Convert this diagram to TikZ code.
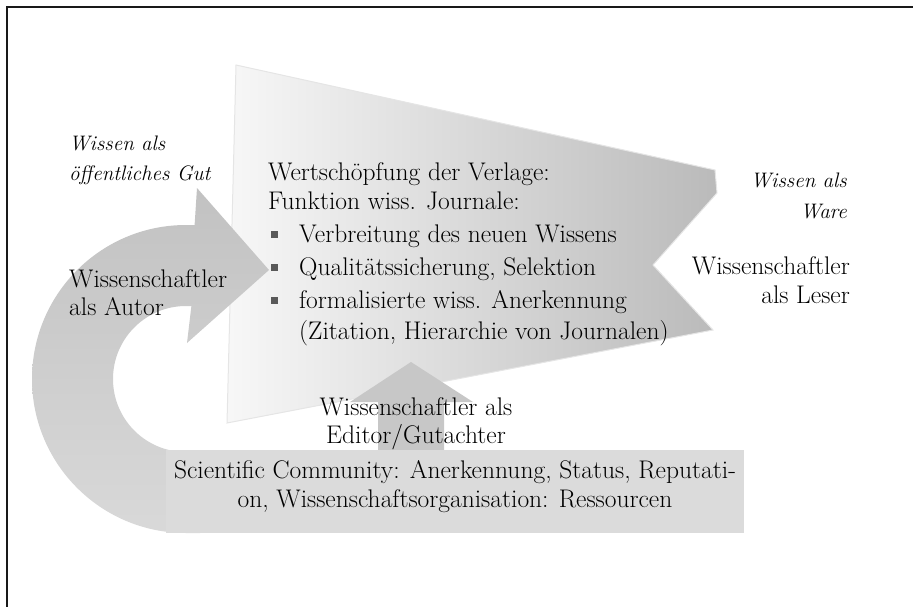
\documentclass[tikz,border=0pt]{standalone}
\usepackage{fontspec}
\begin{document}
\begin{tikzpicture}[x=1pt,y=-1pt,
  txt/.style={inner sep=0pt, font=\fontsize{25.5}{30}\selectfont},
  itx/.style={inner sep=0pt, font=\fontsize{21}{28}\selectfont\itshape},
  bul/.style={fill=black!65, inner sep=0pt, minimum size=7pt, shape=rectangle},
  shaft/.style={fill=black!22},
  frameline/.style={line width=2.2pt, black!90}
]
\useasboundingbox (0,0) rectangle (913,607);
% frame
\draw[frameline] (7,607) -- (7,7) -- (913,7);
% funnel
\path[draw=black!10, line width=1pt, left color=black!3, right color=black!27]
  (236,65) -- (715,170) -- (717,193) -- (653,265) -- (713,330) -- (227,423) -- cycle;
% curved arrow
\path[top color=black!24, bottom color=black!15]
  (186,306) -- (191.4,306) -- (187,343) -- (269,270) -- (197,188) -- (194.6,225) -- (186,225)
  arc[start angle=270, end angle=90, radius=154] -- (200,533) -- (200,452) -- (186,452)
  arc[start angle=90, end angle=270, radius=73] -- cycle;
% up arrow
\path[shaft] (411,362) -- (473,402) -- (444,402) -- (444,455) -- (378,455) -- (378,402) -- (350,402) -- cycle;
% bottom box
\node[fill=black!14, inner sep=0pt, minimum width=578pt, minimum height=83pt, anchor=north west] (box) at (166,450) {};
% texts
\node[itx, anchor=base west] (g1) at (69,151) {Wissen als};
\node[itx, anchor=base west] (g2) at (69,180) {öffentliches Gut};
\node[txt, anchor=base west] (a1) at (69,287) {Wissenschaftler};
\node[txt, anchor=base west] (a2) at (69,315) {als Autor};
\node[txt, anchor=base west] (v1) at (268,180) {Wertschöpfung der Verlage:};
\node[txt, anchor=base west] (v2) at (268,209) {Funktion wiss. Journale:};
\node[bul] (q1) at (274.5,234) {};
\node[bul] (q2) at (274.5,267) {};
\node[bul] (q3) at (274.5,300) {};
\node[txt, anchor=base west] (b1) at (299,242) {Verbreitung des neuen Wissens};
\node[txt, anchor=base west] (b2) at (299,275) {Qualitätssicherung, Selektion};
\node[txt, anchor=base west] (b3) at (299,308) {formalisierte wiss. Anerkennung};
\node[txt, anchor=base west] (b4) at (299,339) {(Zitation, Hierarchie von Journalen)};
\node[itx, anchor=base east] (w1) at (847,187) {Wissen als};
\node[itx, anchor=base east] (w2) at (847,218) {Ware};
\node[txt, anchor=base east] (l1) at (850,274) {Wissenschaftler};
\node[txt, anchor=base east] (l2) at (850,303) {als Leser};
\node[txt, anchor=base] (e1) at (416,415) {Wissenschaftler als};
\node[txt, anchor=base] (e2) at (416,443) {Editor/Gutachter};
\node[txt, anchor=base] (s1) at (455,478) {Scientific Community: Anerkennung, Status, Reputati-};
\node[txt, anchor=base] (s2) at (455,507) {on, Wissenschaftsorganisation: Ressourcen};
\end{tikzpicture}
\end{document}
